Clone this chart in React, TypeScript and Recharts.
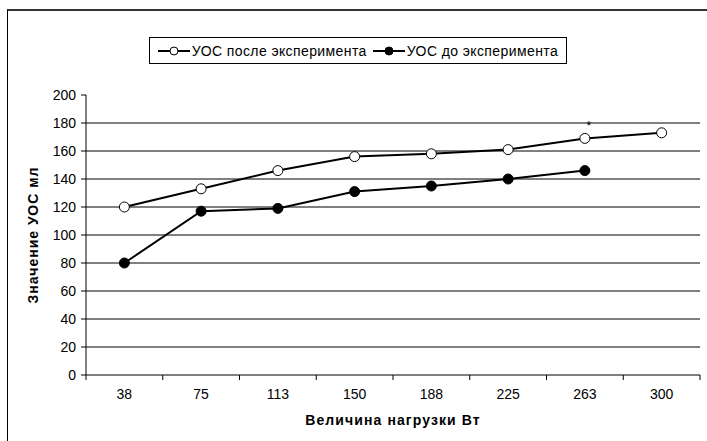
import React from "react";
import {
  CartesianGrid,
  Label,
  LabelList,
  Legend,
  Line,
  LineChart,
  XAxis,
  YAxis,
} from "recharts";

// load steps, W
const loads = ["38", "75", "113", "150", "188", "225", "263", "300"];
// tidal volume after the test, ml
const afterValues = [120, 133, 146, 156, 158, 161, 169, 173];
// tidal volume before the test, ml
const beforeValues = [80, 117, 119, 131, 135, 140, 146];
// marks drawn above points
const notes = ["", "", "", "", "", "", "*", ""];
const yTicks = [0, 20, 40, 60, 80, 100, 120, 140, 160, 180, 200];

const CHART_W = 700;
const CHART_H = 431;
const Y_AXIS_W = 78;
const MARGIN_RIGHT = 8;
const HALF_BAND = (CHART_W - Y_AXIS_W - MARGIN_RIGHT) / loads.length / 2;
const FONT = "'Liberation Sans', Arial, sans-serif";

const data = loads.map((load, i) => ({
  load,
  after: afterValues[i],
  before: beforeValues[i] ?? null,
  note: notes[i],
}));

function LoadTick(props: any) {
  const { x, y, payload, index } = props;
  const last = index === loads.length - 1;
  return (
    <g>
      <line x1={x - HALF_BAND} x2={x - HALF_BAND} y1={y} y2={y + 5} stroke="#000" />
      {last && (
        <line x1={x + HALF_BAND} x2={x + HALF_BAND} y1={y} y2={y + 5} stroke="#000" />
      )}
      <text
        x={x}
        y={y + 14}
        dy="0.71em"
        textAnchor="middle"
        fill="#000"
        fontSize={14}
        fontFamily={FONT}
      >
        {payload.value}
      </text>
    </g>
  );
}

function LegendIcon({ filled }: { filled: boolean }) {
  return (
    <svg width={32} height={12} style={{ display: "block" }}>
      <line x1={0} x2={32} y1={6} y2={6} stroke="#000" strokeWidth={2} />
      <circle cx={16} cy={6} r={4} fill={filled ? "#000" : "#fff"} stroke="#000" />
    </svg>
  );
}

function LegendBox() {
  return (
    <div style={{ textAlign: "center" }}>
      <div
        style={{
          display: "inline-flex",
          alignItems: "center",
          height: 25,
          padding: "0 8px",
          border: "1px solid #000",
          fontFamily: FONT,
          fontSize: 14,
          letterSpacing: 0.4,
          color: "#000",
          background: "#fff",
        }}
      >
        <LegendIcon filled={false} />
        <span style={{ marginLeft: 2, marginRight: 6 }}>УОС после эксперимента</span>
        <LegendIcon filled={true} />
        <span style={{ marginLeft: 2 }}>УОС до эксперимента</span>
      </div>
    </div>
  );
}

export default function App() {
  return (
    <>
      <style>{`body { margin: 0; overflow: hidden; background: #fff; }`}</style>
      <div
        style={{
          position: "absolute",
          left: 7,
          top: 9,
          width: 720,
          height: 450,
          borderLeft: "1px solid #000",
          borderTop: "2px solid #333",
        }}
      >
        <LineChart
          width={CHART_W}
          height={CHART_H}
          data={data}
          margin={{ top: 84, right: MARGIN_RIGHT, left: 0, bottom: 0 }}
        >
          <CartesianGrid
            vertical={false}
            stroke="#000"
            horizontalValues={yTicks.filter((v) => v > 0 && v < 200)}
          />
          <XAxis
            dataKey="load"
            height={67}
            padding={{ left: HALF_BAND, right: HALF_BAND }}
            axisLine={{ stroke: "#000" }}
            tickLine={false}
            tickSize={0}
            tickMargin={0}
            tick={<LoadTick />}
            interval={0}
          >
            <Label
              value="Величина нагрузки Вт"
              position="insideBottom"
              offset={17}
              fill="#000"
              fontSize={14}
              fontWeight="bold"
              letterSpacing={1.1}
              fontFamily={FONT}
            />
          </XAxis>
          <XAxis
            xAxisId="top"
            dataKey="load"
            orientation="top"
            height={0}
            tick={false}
            tickLine={false}
            axisLine={{ stroke: "#808080" }}
          />
          <YAxis
            width={Y_AXIS_W}
            domain={[0, 200]}
            ticks={yTicks}
            interval={0}
            tickSize={5}
            tickMargin={5}
            axisLine={{ stroke: "#000" }}
            tickLine={{ stroke: "#000" }}
            tick={{ fill: "#000", fontSize: 14, fontFamily: FONT }}
          >
            <Label
              value="Значение УОС мл"
              angle={-90}
              position="center"
              dx={-14}
              fill="#000"
              fontSize={14}
              fontWeight="bold"
              letterSpacing={1}
              fontFamily={FONT}
            />
          </YAxis>
          <YAxis
            yAxisId="right"
            orientation="right"
            width={0}
            domain={[0, 200]}
            tick={false}
            tickLine={false}
            axisLine={{ stroke: "#808080" }}
          />
          <Legend
            verticalAlign="middle"
            content={<LegendBox />}
            wrapperStyle={{ top: 26, left: 0, width: CHART_W }}
          />
          <Line
            name="УОС после эксперимента"
            type="linear"
            dataKey="after"
            stroke="#000"
            strokeWidth={2}
            dot={{ r: 5, fill: "#fff", stroke: "#000", strokeWidth: 1 }}
            activeDot={false}
            isAnimationActive={false}
          >
            <LabelList
              dataKey="note"
              position="top"
              offset={8}
              dx={4}
              fill="#000"
              stroke="none"
              fontSize={12}
              fontFamily={FONT}
            />
          </Line>
          <Line
            name="УОС до эксперимента"
            type="linear"
            dataKey="before"
            stroke="#000"
            strokeWidth={2}
            dot={{ r: 5, fill: "#000", stroke: "#000", strokeWidth: 1 }}
            activeDot={false}
            isAnimationActive={false}
          />
        </LineChart>
      </div>
    </>
  );
}
